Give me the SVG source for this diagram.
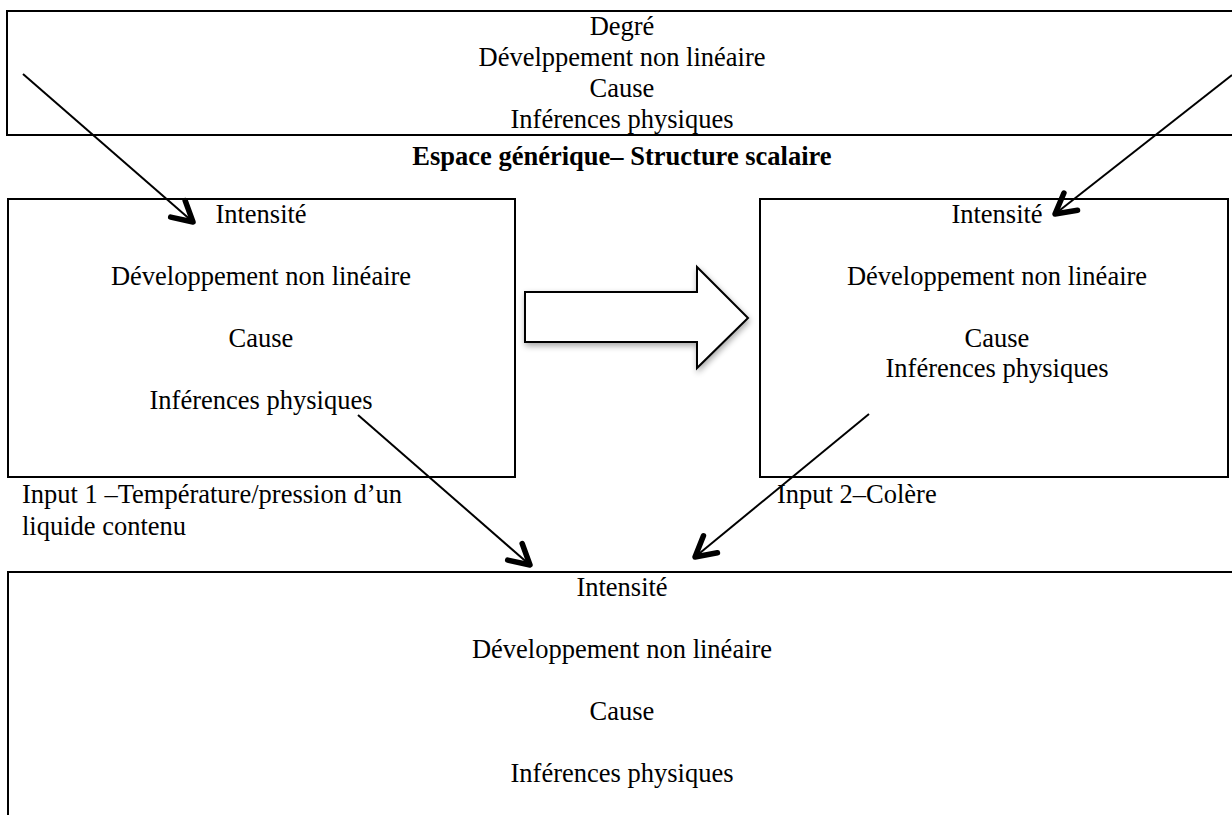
<svg xmlns="http://www.w3.org/2000/svg" width="1232" height="815" viewBox="0 0 1232 815">
<style>
.box{fill:#fff;stroke:#000;stroke-width:2}
.t{font-family:"Liberation Serif","Times New Roman",serif;font-size:26.5px;fill:#000;text-anchor:middle}
.l{font-family:"Liberation Serif","Times New Roman",serif;font-size:26.5px;fill:#000}
.b{font-family:"Liberation Serif","Times New Roman",serif;font-size:26.5px;font-weight:bold;fill:#000;text-anchor:middle}
.c{stroke:#000;stroke-width:2;fill:none;marker-end:url(#ah)}
</style>
<defs>
<marker id="ah" markerUnits="userSpaceOnUse" markerWidth="34" markerHeight="34" viewBox="-26 -17 30 34" refX="0" refY="0" orient="auto">
<path d="M-20,-11 L0,0 L-20,11" fill="none" stroke="#000" stroke-width="5.5" stroke-linecap="round" stroke-linejoin="round"/>
</marker>
<filter id="sh" x="-20%" y="-20%" width="140%" height="140%">
<feGaussianBlur in="SourceAlpha" stdDeviation="3"/>
<feOffset dx="1" dy="3" result="o"/>
<feComponentTransfer><feFuncA type="linear" slope="0.35"/></feComponentTransfer>
<feMerge><feMergeNode/><feMergeNode in="SourceGraphic"/></feMerge>
</filter>
</defs>
<g id="generic">
<rect class="box" x="7" y="11" width="1240" height="124"/>
<text class="t" x="622" y="35">Degré</text>
<text class="t" x="622" y="66">Dévelppement non linéaire</text>
<text class="t" x="622" y="97">Cause</text>
<text class="t" x="622" y="128">Inférences physiques</text>
<text class="b" x="622" y="165">Espace générique– Structure scalaire</text>
</g>
<g id="input1">
<rect class="box" x="8" y="199" width="507" height="278"/>
<text class="t" x="261" y="223">Intensité</text>
<text class="t" x="261" y="285">Développement non linéaire</text>
<text class="t" x="261" y="347">Cause</text>
<text class="t" x="261" y="409">Inférences physiques</text>
<text class="l" x="22" y="503">Input 1 –Température/pression d’un</text>
<text class="l" x="22" y="535">liquide contenu</text>
</g>
<g id="input2">
<rect class="box" x="760" y="199" width="468" height="278"/>
<text class="t" x="997" y="223">Intensité</text>
<text class="t" x="997" y="285">Développement non linéaire</text>
<text class="t" x="997" y="347">Cause</text>
<text class="t" x="997" y="377">Inférences physiques</text>
<text class="l" x="777" y="503">Input 2–Colère</text>
</g>
<g id="blend">
<rect class="box" x="8" y="572" width="1240" height="260"/>
<text class="t" x="622" y="596">Intensité</text>
<text class="t" x="622" y="658">Développement non linéaire</text>
<text class="t" x="622" y="720">Cause</text>
<text class="t" x="622" y="782">Inférences physiques</text>
</g>
<g id="mapping">
<polygon points="525,292 697,292 697,267 748,318 697,368 697,342 525,342" fill="#fff" stroke="#000" stroke-width="2" filter="url(#sh)"/>
</g>
<g id="connectors">
<line class="c" x1="23" y1="74" x2="193" y2="222"/>
<line class="c" x1="1232" y1="75" x2="1055" y2="214"/>
<line class="c" x1="358" y1="415" x2="530" y2="565"/>
<line class="c" x1="869" y1="414" x2="695" y2="557"/>
</g>
</svg>
